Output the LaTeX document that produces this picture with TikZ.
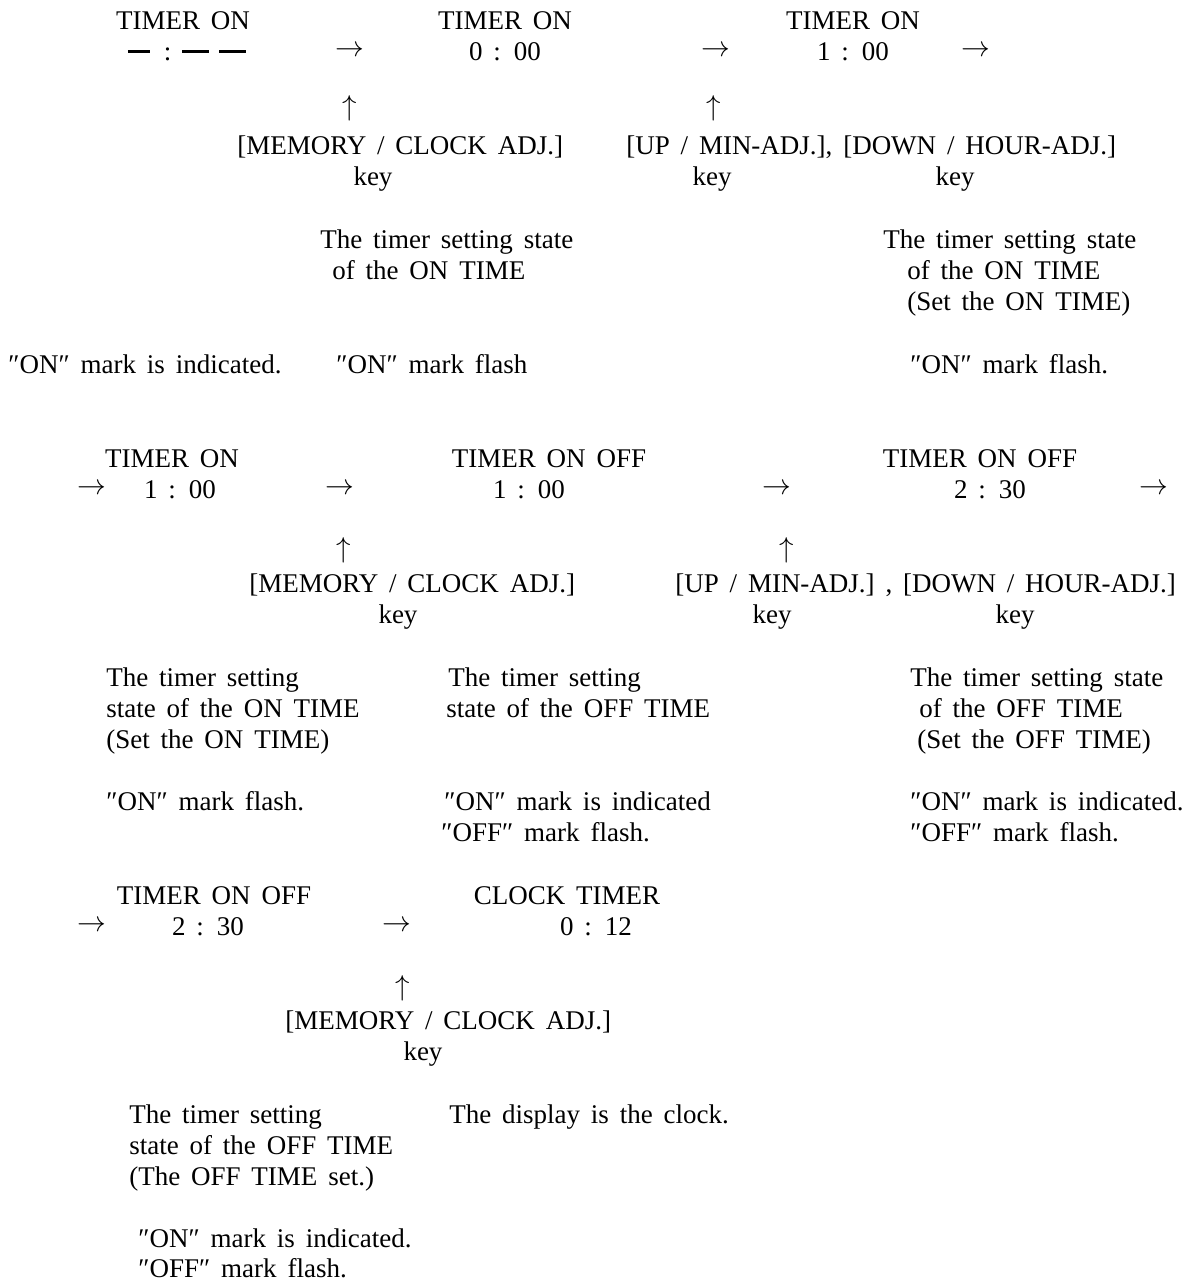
\documentclass[tikz,border=0pt]{standalone}
\usepackage{fontspec}
\setmainfont[WordSpace=1.6]{Liberation Serif}
\usetikzlibrary{positioning}

\newcommand{\bardash}[1]{\rule[3.75pt]{#1}{1.5pt}}

\begin{document}
\begin{tikzpicture}[x=0.5pt,y=-0.5pt,font=\fontsize{13.5}{16}\selectfont]
\tikzstyle{every node}=[inner sep=0pt]
\tikzstyle{lbl}=[anchor=base west]
\tikzstyle{mid}=[anchor=base]
\tikzstyle{arr}=[anchor=center]

\useasboundingbox (0,0) rectangle (1185,1281);

% first row
\node[mid]  (s1) at (183,29) {TIMER ON};
\node[mid]  (v1) at (187,60) {\bardash{11pt}\hspace{7pt}:\hspace{5.5pt}\bardash{13.5pt}\hspace{5pt}\bardash{13.5pt}};
\node[arr]  (a1) at (350,51) {$\rightarrow$};
\node[mid]  (s2) at (505,29) {TIMER ON};
\node[mid]  (v2) at (505,60) {0 : 00};
\node[arr]  (a2) at (716,51) {$\rightarrow$};
\node[mid]  (s3) at (853,29) {TIMER ON};
\node[mid]  (v3) at (853,60) {1 : 00};
\node[arr]  (a3) at (976,51) {$\rightarrow$};

\node[arr]  (u1) at (350,108) {$\uparrow$};
\node[lbl]  (k1) at (237,154) {[MEMORY / CLOCK ADJ.]};
\node[mid]  (k1a) at (373,185) {key};
\node[arr]  (u2) at (714,108) {$\uparrow$};
\node[lbl]  (k2) at (626,154) {[UP / MIN-ADJ.], [DOWN / HOUR-ADJ.]};
\node[mid]  (k2a) at (712,185) {key};
\node[mid]  (k2b) at (955,185) {key};

\node[lbl]  (t2a) at (320,248) {The timer setting state};
\node[lbl]  (t2b) at (332,279) {of the ON TIME};
\node[lbl]  (t3a) at (883,248) {The timer setting state};
\node[lbl]  (t3b) at (907,279) {of the ON TIME};
\node[lbl]  (t3c) at (907,310) {(Set the ON TIME)};

\node[lbl]  (m1) at (8,373)   {″ON″ mark is indicated.};
\node[lbl]  (m2) at (336,373) {″ON″ mark flash};
\node[lbl]  (m3) at (910,373) {″ON″ mark flash.};

% second row
\node[arr]  (a4) at (92,489)  {$\rightarrow$};
\node[mid]  (s4) at (172,467) {TIMER ON};
\node[mid]  (v4) at (180,498) {1 : 00};
\node[arr]  (a5) at (340,489) {$\rightarrow$};
\node[mid]  (s5) at (549,467) {TIMER ON OFF};
\node[mid]  (v5) at (529,498) {1 : 00};
\node[arr]  (a6) at (777,489) {$\rightarrow$};
\node[mid]  (s6) at (980,467) {TIMER ON OFF};
\node[mid]  (v6) at (990,498) {2 : 30};
\node[arr]  (a7) at (1154,489) {$\rightarrow$};

\node[arr]  (u3) at (344,550) {$\uparrow$};
\node[lbl]  (k3) at (249,592) {[MEMORY / CLOCK ADJ.]};
\node[mid]  (k3a) at (398,623) {key};
\node[arr]  (u4) at (787,550) {$\uparrow$};
\node[lbl]  (k4) at (675,592) {[UP / MIN-ADJ.] , [DOWN / HOUR-ADJ.]};
\node[mid]  (k4a) at (772,623) {key};
\node[mid]  (k4b) at (1015,623) {key};

\node[lbl]  (t4a) at (106,686) {The timer setting};
\node[lbl]  (t4b) at (106,717) {state of the ON TIME};
\node[lbl]  (t4c) at (106,748) {(Set the ON TIME)};
\node[lbl]  (t5a) at (448,686) {The timer setting};
\node[lbl]  (t5b) at (446,717) {state of the OFF TIME};
\node[lbl]  (t6a) at (910,686) {The timer setting state};
\node[lbl]  (t6b) at (919,717) {of the OFF TIME};
\node[lbl]  (t6c) at (917,748) {(Set the OFF TIME)};

\node[lbl]  (m4)  at (106,810) {″ON″ mark flash.};
\node[lbl]  (m5a) at (444,810) {″ON″ mark is indicated};
\node[lbl]  (m5b) at (441,841) {″OFF″ mark flash.};
\node[lbl]  (m6a) at (910,810) {″ON″ mark is indicated.};
\node[lbl]  (m6b) at (910,841) {″OFF″ mark flash.};

% third row
\node[arr]  (a8) at (92,926)  {$\rightarrow$};
\node[mid]  (s7) at (214,904) {TIMER ON OFF};
\node[mid]  (v7) at (208,935) {2 : 30};
\node[arr]  (a9) at (397,926) {$\rightarrow$};
\node[mid]  (s8) at (567,904) {CLOCK TIMER};
\node[mid]  (v8) at (596,935) {0 : 12};

\node[arr]  (u5) at (403,988) {$\uparrow$};
\node[lbl]  (k5) at (285,1029) {[MEMORY / CLOCK ADJ.]};
\node[mid]  (k5a) at (423,1060) {key};

\node[lbl]  (t7a) at (129,1123) {The timer setting};
\node[lbl]  (t7b) at (129,1154) {state of the OFF TIME};
\node[lbl]  (t7c) at (129,1185) {(The OFF TIME set.)};
\node[lbl]  (t8a) at (449,1123) {The display is the clock.};

\node[lbl]  (m7a) at (138,1247) {″ON″ mark is indicated.};
\node[lbl]  (m7b) at (138,1277) {″OFF″ mark flash.};
\end{tikzpicture}
\end{document}
